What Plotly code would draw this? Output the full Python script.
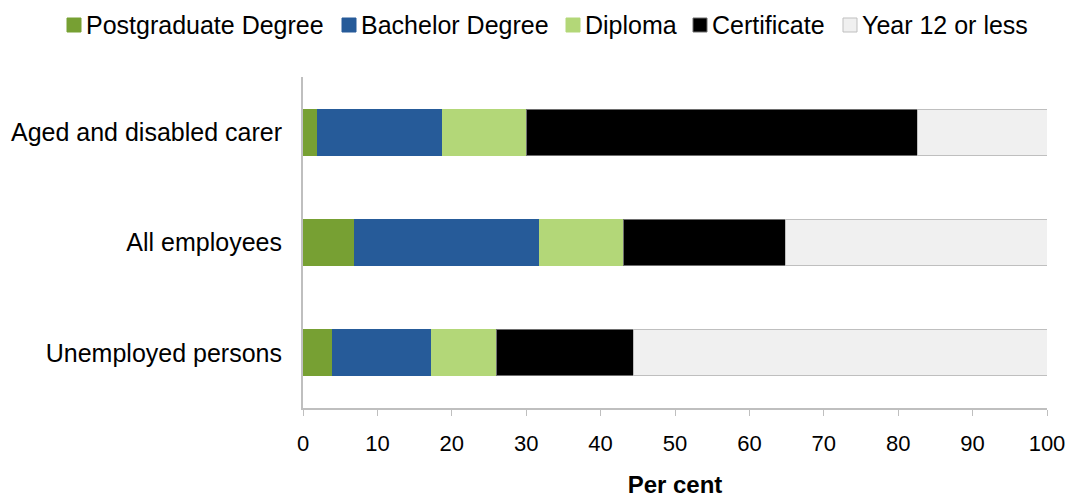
import plotly.graph_objects as go

categories = ["Aged and disabled carer", "All employees", "Unemployed persons"]
series_names = ["Postgraduate Degree", "Bachelor Degree", "Diploma", "Certificate", "Year 12 or less"]
postgraduate = [1.9, 6.9, 3.9]
bachelor = [16.9, 24.9, 13.4]
diploma = [11.2, 11.3, 8.7]
certificate = [52.6, 21.8, 18.4]
year12 = [17.4, 35.1, 55.6]
x_ticks = [0, 10, 20, 30, 40, 50, 60, 70, 80, 90, 100]

values = [postgraduate, bachelor, diploma, certificate, year12]
colors = ["#77A033", "#265B99", "#B3D778", "#000000", "#F0F0F0"]
outlines = ["#77A033", "#265B99", "#B3D778", "#6E6E6E", "#BFBFBF"]

W, H = 1073, 498
M_L, M_R, M_T, M_B = 303, 26, 77, 90
PLOT_W = W - M_L - M_R
PLOT_H = H - M_T - M_B

font_family = "Liberation Sans, Arial, sans-serif"

fig = go.Figure()
for name, vals, col, line in zip(series_names, values, colors, outlines):
    fig.add_trace(go.Bar(
        y=categories, x=vals, name=name, orientation="h",
        marker=dict(color=col, line=dict(color=line, width=1)),
        showlegend=False,
    ))

# Legend drawn as a single row of swatches and labels above the plot
legend_swatch_px = [67, 342, 566, 693, 843]
swatch_size = 14
legend_center_py = 25


def px_to_paper_x(px):
    return (px - M_L) / PLOT_W


def py_to_paper_y(py):
    return 1 + (M_T - py) / PLOT_H


for name, col, line, sx in zip(series_names, colors, outlines, legend_swatch_px):
    fig.add_shape(
        type="rect", xref="paper", yref="paper",
        x0=px_to_paper_x(sx), x1=px_to_paper_x(sx + swatch_size),
        y0=py_to_paper_y(legend_center_py + swatch_size / 2),
        y1=py_to_paper_y(legend_center_py - swatch_size / 2),
        fillcolor=col, line=dict(color=line, width=1),
    )
    fig.add_annotation(
        xref="paper", yref="paper",
        x=px_to_paper_x(sx + swatch_size + 3), y=py_to_paper_y(legend_center_py),
        xanchor="left", yanchor="middle", showarrow=False,
        text=name, font=dict(size=25, color="#000000"),
    )

fig.update_layout(
    barmode="stack",
    bargap=0.584,
    width=W, height=H,
    margin=dict(l=M_L, r=M_R, t=M_T, b=M_B, autoexpand=False),
    paper_bgcolor="white", plot_bgcolor="white",
    font=dict(family=font_family, size=21, color="#000000"),
    showlegend=False,
    xaxis=dict(
        range=[0, 100], tickvals=x_ticks, showgrid=False,
        showline=True, linecolor="#BFBFBF", linewidth=2,
        ticks="outside", ticklen=6, tickcolor="#BFBFBF",
        tickfont=dict(size=22), zeroline=False, automargin=False,
        ticklabelstandoff=9,
        title=dict(text="<b>Per cent</b>", font=dict(size=24), standoff=26),
    ),
    yaxis=dict(
        autorange="reversed", showgrid=False,
        showline=True, linecolor="#BFBFBF", linewidth=2,
        ticks="", tickfont=dict(size=25), ticklabelstandoff=14,
        automargin=False,
    ),
)

fig.write_html("out.html")
